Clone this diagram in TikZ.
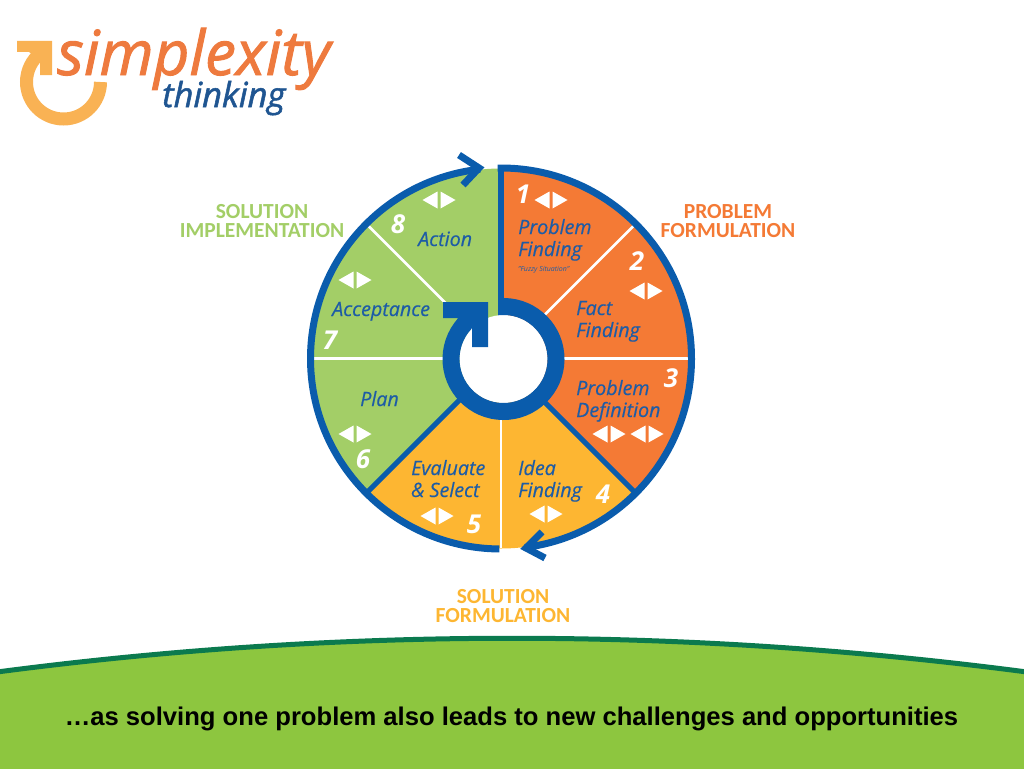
\documentclass[tikz,border=0pt]{standalone}
\usepackage{fontspec}
\setmainfont{Open Sans}
\newfontfamily\barfont{Liberation Sans}
\newfontfamily\catfont{Carlito}
\newfontfamily\logofont{Open Sans}[ItalicFeatures={FakeBold=1.5}]
\newfontfamily\lblfont{Open Sans}[ItalicFeatures={FakeBold=0.4}]
\definecolor{ringblue}{HTML}{0A5CAC}
\definecolor{textblue}{HTML}{1D5CA6}
\definecolor{orangeA}{HTML}{F47A35}
\definecolor{yellowA}{HTML}{FDB632}
\definecolor{greenA}{HTML}{A3CE67}
\definecolor{barGreen}{HTML}{8DC63F}
\definecolor{barEdge}{HTML}{0B7A4E}
\definecolor{logoOrange}{HTML}{EE7A3E}
\definecolor{logoGold}{HTML}{F9B254}
\definecolor{logoBlue}{HTML}{1F5591}
\tikzset{
  x=1pt,y=-1pt,
  ringline/.style={draw=ringblue,line width=7pt},
  chevron/.style={draw=ringblue,line width=7pt,miter limit=10},
  whitesep/.style={draw=white,line width=2.6pt},
  bluesep/.style={draw=ringblue,line width=5pt},
  lbl/.style={anchor=base west,inner sep=0pt,text=textblue,font=\lblfont\fontsize{19.7}{21}\selectfont\itshape},
  num/.style={anchor=base,inner sep=0pt,text=white,font=\fontsize{26}{26}\selectfont\bfseries\itshape},
  cat/.style={inner sep=0pt,align=center,font=\catfont\fontsize{21.5}{19.5}\selectfont\bfseries},
  pics/lr/.style={code={
    \fill[white] (-1.5,-8.5) -- (-1.5,8.5) -- (-16.5,0) -- cycle;
    \fill[white] (1.5,-8.5) -- (1.5,8.5) -- (16.5,0) -- cycle;
  }}
}
\begin{document}
\begin{tikzpicture}
\useasboundingbox (0,0) rectangle (1024,768);
% bottom band
\fill[barGreen] (-3,672) .. controls (340,627) and (684,627) .. (1027,672) -- (1027,771) -- (-3,771) -- cycle;
\draw[barEdge,line width=5pt] (-3,672) .. controls (340,627) and (684,627) .. (1027,672);
\node[inner sep=0pt,font=\barfont\bfseries\fontsize{25.6}{26}\selectfont] (caption) at (511.5,719) {…as solving one problem also leads to new challenges and opportunities};
% logo
\draw[logoGold,line width=13pt] (100.5,82) arc[start angle=0,end angle=232,radius=37];
\fill[logoGold] (17,41) -- (52,41) -- (52,75) -- (40,75) -- (40,60) -- (29,52) -- (17,52) -- cycle;
\node[anchor=base west,inner sep=0pt,text=logoOrange,font=\logofont\fontsize{62}{62}\selectfont\itshape] (logoA) at (57,75) {simplexity};
\node[anchor=base west,inner sep=0pt,text=logoBlue,font=\logofont\fontsize{34.5}{35}\selectfont\itshape] (logoB) at (162,107) {thinking};
% wheel sectors
\coordinate (c) at (501,358.5);
\fill[orangeA] (c) -- ++(-90:190) arc[start angle=-90,end angle=45,radius=190] -- cycle;
\fill[yellowA] (c) -- ++(45:190) arc[start angle=45,end angle=135,radius=190] -- cycle;
\fill[greenA] (c) -- ++(135:190) arc[start angle=135,end angle=270,radius=190] -- cycle;
% separators
\draw[whitesep] (c) -- ++(-45:190);
\draw[whitesep] (c) -- ++(0:189);
\draw[whitesep] (c) -- ++(180:189);
\draw[whitesep] (c) -- ++(225:189);
\draw[whitesep] (c) -- ++(90:189);
\draw[bluesep] (c) -- ++(45:189);
\draw[bluesep] (c) -- ++(135:189);
\draw[draw=ringblue,line width=6pt] (501,165) -- (c);
% outer ring with arrows
\draw[ringline] (c) ++(-91:190.5) arc[start angle=-91,end angle=82.8,radius=190.5];
\draw[chevron] (542,532) -- (526,548) -- (545,558);
\draw[ringline] (c) ++(90.5:190.5) arc[start angle=90.5,end angle=263.7,radius=190.5];
\draw[chevron] (459,155) -- (479,168) -- (463,185);
% hub
\fill[white] (503.5,359) circle[radius=44];
\draw[ringblue,line width=17pt] (503.5,359) ++(-95:52.5) arc[start angle=-95,end angle=222,radius=52.5];
\fill[ringblue] (443,302) -- (488,302) -- (488,347) -- (472,347) -- (472,328) -- (458,342) -- (452,330) -- (458,318) -- (443,318) -- cycle;
% triangle pairs
\pic at (551,200) {lr};
\pic at (646,291) {lr};
\pic at (609,434) {lr};
\pic at (647,434) {lr};
\pic at (546,514) {lr};
\pic at (437,516) {lr};
\pic at (355,434) {lr};
\pic at (355,280) {lr};
\pic at (439,200) {lr};
% numbers
\node[num] (n1) at (523,203) {1};
\node[num] (n2) at (637,270) {2};
\node[num] (n3) at (671,387) {3};
\node[num] (n4) at (603,503) {4};
\node[num] (n5) at (474,533) {5};
\node[num] (n6) at (363,468) {6};
\node[num] (n7) at (330,349) {7};
\node[num] (n8) at (398,233) {8};
% labels
\node[lbl] (l1a) at (518,234) {Problem};
\node[lbl] (l1b) at (518,256) {Finding};
\node[lbl,font=\fontsize{7}{8}\selectfont\itshape] (l1c) at (518,271) {"Fuzzy Situation"};
\node[lbl] (l2a) at (576,315) {Fact};
\node[lbl] (l2b) at (576,337) {Finding};
\node[lbl] (l3a) at (576,395) {Problem};
\node[lbl] (l3b) at (576,417) {Definition};
\node[lbl] (l4a) at (518,475) {Idea};
\node[lbl] (l4b) at (518,497) {Finding};
\node[lbl] (l5a) at (411,475) {Evaluate};
\node[lbl] (l5b) at (411,497) {\& Select};
\node[lbl] (l6) at (360,406) {Plan};
\node[lbl] (l7) at (332,316) {Acceptance};
\node[lbl] (l8) at (418,246) {Action};
% category labels
\node[cat,text=greenA] (catA) at (262,221) {SOLUTION\\IMPLEMENTATION};
\node[cat,text=orangeA] (catB) at (728,221) {PROBLEM\\FORMULATION};
\node[cat,text=yellowA] (catC) at (503,606) {SOLUTION\\FORMULATION};
\end{tikzpicture}
\end{document}
